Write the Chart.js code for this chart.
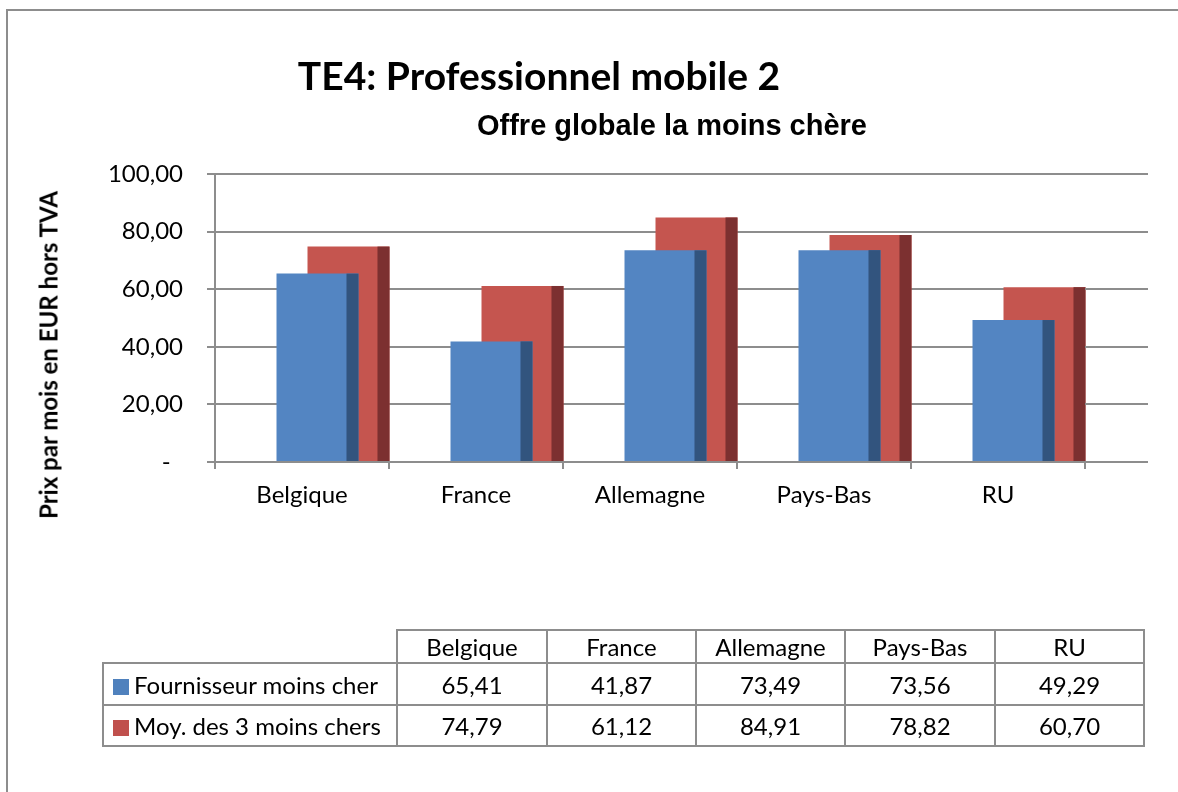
<!DOCTYPE html>
<html><head><meta charset="utf-8">
<script src="https://cdn.jsdelivr.net/npm/chart.js@4.4.1/dist/chart.umd.min.js"></script>
<style>
html,body{margin:0;padding:0;background:#fff;overflow:hidden;width:1178px;height:792px;position:relative;}
#frame{position:absolute;left:6px;top:9px;width:1300px;height:1000px;border:2px solid #8d8d8d;}
#c{position:absolute;left:0;top:0;}
#title{position:absolute;left:139px;width:800px;top:51px;text-align:center;font:bold 39px Lato,sans-serif;line-height:48px;color:#000;white-space:nowrap;}
#subtitle{position:absolute;left:272px;width:800px;top:108px;text-align:center;font:bold 29px "Liberation Sans",Arial,sans-serif;line-height:34px;color:#000;white-space:nowrap;}
#ytitle{position:absolute;left:48px;top:355px;transform:translate(-50%,-50%) rotate(-90deg);font:bold 24px Lato,sans-serif;white-space:nowrap;color:#000;}
#tbl{position:absolute;left:102px;top:629px;border-collapse:collapse;table-layout:fixed;font:24px Lato,sans-serif;color:#000;}
#tbl td{border:2px solid #8d8d8d;text-align:center;padding:0;white-space:nowrap;}
#tbl td.corner{border-top:none;border-left:none;}
#tbl td.name{text-align:left;padding-left:9px;}
.sw{display:inline-block;width:16px;height:16px;margin-right:5px;vertical-align:-1px;}
</style></head>
<body>
<div id="frame"></div>
<canvas id="c" width="1178" height="792"></canvas>
<div id="title">TE4: Professionnel mobile 2</div>
<div id="subtitle">Offre globale la moins chère</div>
<div id="ytitle">Prix par mois en EUR hors TVA</div>
<table id="tbl"></table>
<script>
// ---- data ----
const categories = ['Belgique', 'France', 'Allemagne', 'Pays-Bas', 'RU'];
const seriesNames = ['Fournisseur moins cher', 'Moy. des 3 moins chers'];
const cheapest = [65.41, 41.87, 73.49, 73.56, 49.29];
const avgOfThree = [74.79, 61.12, 84.91, 78.82, 60.70];
const yTickValues = [0, 20, 40, 60, 80, 100];

// ---- style ----
const GRID = '#8d8d8d';
const FRONT = ['#5385C2', '#C5554F'];
const SIDE_COL = ['#32547E', '#7C3030'];
const LEGEND_COL = ['#4F81BD', '#C0504D'];
const DEPTH_SHIFT = 31;  // 3D depth offset of the bar row
const SIDE_W = 12;       // width of the shaded bar side

const fmt = v => v.toFixed(2).replace('.', ',');

const depthPlugin = {
  id: 'depth3d',
  beforeDatasetsDraw(chart) { chart.ctx.save(); chart.ctx.translate(DEPTH_SHIFT, 0); },
  afterDatasetDraw(chart, args) {
    const ctx = chart.ctx;
    ctx.save();
    ctx.fillStyle = SIDE_COL[args.index];
    args.meta.data.forEach(bar => {
      const p = bar.getProps(['x', 'y', 'base', 'width'], true);
      const right = p.x + p.width / 2;
      ctx.fillRect(right - SIDE_W, p.y, SIDE_W, p.base - p.y);
    });
    ctx.restore();
  },
  afterDatasetsDraw(chart) { chart.ctx.restore(); }
};

const wallPlugin = {
  id: 'backwall',
  afterDraw(chart) {
    const ctx = chart.ctx, y = chart.scales.y, a = chart.chartArea;
    ctx.save();
    ctx.strokeStyle = GRID; ctx.lineWidth = 2;
    y.ticks.forEach(t => {
      const py = Math.round(y.getPixelForValue(t.value));
      ctx.beginPath(); ctx.moveTo(a.right, py); ctx.lineTo(a.right + 63, py); ctx.stroke();
    });
    ctx.restore();
  }
};

new Chart(document.getElementById('c'), {
  type: 'bar',
  data: {
    labels: categories,
    datasets: [
      { label: seriesNames[0], data: cheapest, backgroundColor: FRONT[0], borderWidth: 0, categoryPercentage: 0.3563, barPercentage: 2.645 },
      { label: seriesNames[1], data: avgOfThree, backgroundColor: FRONT[1], borderWidth: 0, categoryPercentage: 0.3563, barPercentage: 2.645 }
    ]
  },
  options: {
    responsive: false, animation: false, devicePixelRatio: 1,
    layout: { padding: { left: 75, top: 174, right: 93, bottom: 280 } },
    plugins: { legend: { display: false }, tooltip: { enabled: false }, title: { display: false } },
    scales: {
      x: {
        grid: { drawOnChartArea: false, drawTicks: true, tickLength: 7, color: GRID, lineWidth: 2, offset: true },
        border: { display: true, color: GRID, width: 2 },
        ticks: { font: { family: 'Lato', size: 24 }, color: '#000', padding: 12, maxRotation: 0, autoSkip: false },
        afterFit(s) { s.height = 50; }
      },
      y: {
        min: 0, max: 100,
        grid: { color: GRID, lineWidth: 2, tickLength: 8 },
        border: { display: true, color: GRID, width: 2 },
        ticks: { font: { family: 'Lato', size: 24 }, color: '#000', padding: 24,
          callback: v => v === 0 ? '-  ' : fmt(v) },
        afterBuildTicks(s) { s.ticks = yTickValues.map(v => ({ value: v })); },
        afterFit(s) { s.width = 140; }
      }
    }
  },
  plugins: [depthPlugin, wallPlugin]
});

// ---- data table ----
const tbl = document.getElementById('tbl');
const widths = [294, 150, 149, 149, 150, 149];
let h = '<colgroup>' + widths.map(w => `<col style="width:${w}px">`).join('') + '</colgroup>';
h += '<tr style="height:33px"><td class="corner"></td>' + categories.map(c => `<td>${c}</td>`).join('') + '</tr>';
[cheapest, avgOfThree].forEach((arr, i) => {
  h += `<tr style="height:${i === 0 ? 42 : 41}px"><td class="name"><span class="sw" style="background:${LEGEND_COL[i]}"></span>${seriesNames[i]}</td>` +
    arr.map(v => `<td>${fmt(v)}</td>`).join('') + '</tr>';
});
tbl.innerHTML = h;
</script>
</body></html>
